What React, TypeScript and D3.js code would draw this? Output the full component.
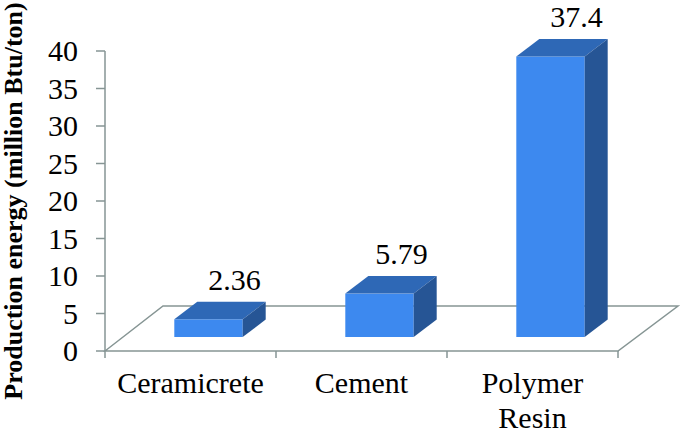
import React from "react";
import * as d3 from "d3";

const categories = ["Ceramicrete", "Cement", "Polymer Resin"];
const values = [2.36, 5.79, 37.4];
const valueLabels = ["2.36", "5.79", "37.4"];
const valueLabelNudges = [26, 22, 26];
const yTicks = [0, 5, 10, 15, 20, 25, 30, 35, 40];
const categoryLines = [["Ceramicrete"], ["Cement"], ["Polymer", "Resin"]];

const FRONT = "#3d89ef";
const TOP = "#2e68b6";
const SIDE = "#265595";
const AXIS = "#869594";
const FONT = "'Liberation Serif', 'Times New Roman', serif";

export default function App() {
  const y = d3.scaleLinear().domain([0, 40]).range([351, 51]);
  const floor = d3.scaleBand<string>().domain(categories).range([105, 618]);
  const barBand = d3.scaleBand<string>().domain(categories).range([123, 636]).paddingInner(0.6).paddingOuter(0.3);
  const bw = barBand.bandwidth();
  const axisX = floor.range()[0];
  const floorRight = floor.range()[1];
  const backY = 306;
  const depthX = 23, depthY = 17.5;
  const lift = y(0) - 337;
  const tickXs = [...categories.map((c) => floor(c)!), floorRight];

  return (
    <svg width={685} height={438} style={{ position: "absolute", left: 0, top: 0, background: "#fff" }}>
      <path
        d={`M${axisX},${y(0)} L163,${backY} L678,${backY} L${floorRight},${y(0)} Z`}
        fill="none"
        stroke={AXIS}
        strokeWidth={1.5}
      />
      <line x1={axisX} y1={y(40)} x2={axisX} y2={y(0)} stroke={AXIS} strokeWidth={1.5} />
      {yTicks.map((t) => (
        <g key={t}>
          <line x1={96} x2={axisX} y1={y(t)} y2={y(t)} stroke={AXIS} strokeWidth={1.5} />
          <text x={78} y={y(t) + 10} textAnchor="end" fontFamily={FONT} fontSize={30}>{t}</text>
        </g>
      ))}
      {tickXs.map((x) => (
        <line key={x} x1={x} x2={x} y1={y(0)} y2={358} stroke={AXIS} strokeWidth={1.5} />
      ))}
      {categories.map((c, i) => {
        const x = barBand(c)!;
        const base = y(0) - lift;
        const topY = y(values[i]) - lift;
        const cx = floor(c)! + floor.bandwidth() / 2;
        return (
          <g key={c}>
            <rect x={x} y={topY} width={bw} height={base - topY} fill={FRONT} />
            <path d={`M${x},${topY} L${x + depthX},${topY - depthY} L${x + bw + depthX},${topY - depthY} L${x + bw},${topY} Z`} fill={TOP} />
            <path d={`M${x + bw},${topY} L${x + bw + depthX},${topY - depthY} L${x + bw + depthX},${base - depthY} L${x + bw},${base} Z`} fill={SIDE} />
            <text x={x + bw / 2 + valueLabelNudges[i]} y={topY - depthY - 12} textAnchor="middle" fontFamily={FONT} fontSize={30}>{valueLabels[i]}</text>
            {categoryLines[i].map((l, j) => (
              <text key={l} x={cx} y={393 + j * 35} textAnchor="middle" fontFamily={FONT} fontSize={30}>{l}</text>
            ))}
          </g>
        );
      })}
      <text transform="translate(22,201) rotate(-90)" textAnchor="middle" fontFamily={FONT} fontSize={26} fontWeight="bold">Production energy (million Btu/ton)</text>
    </svg>
  );
}
